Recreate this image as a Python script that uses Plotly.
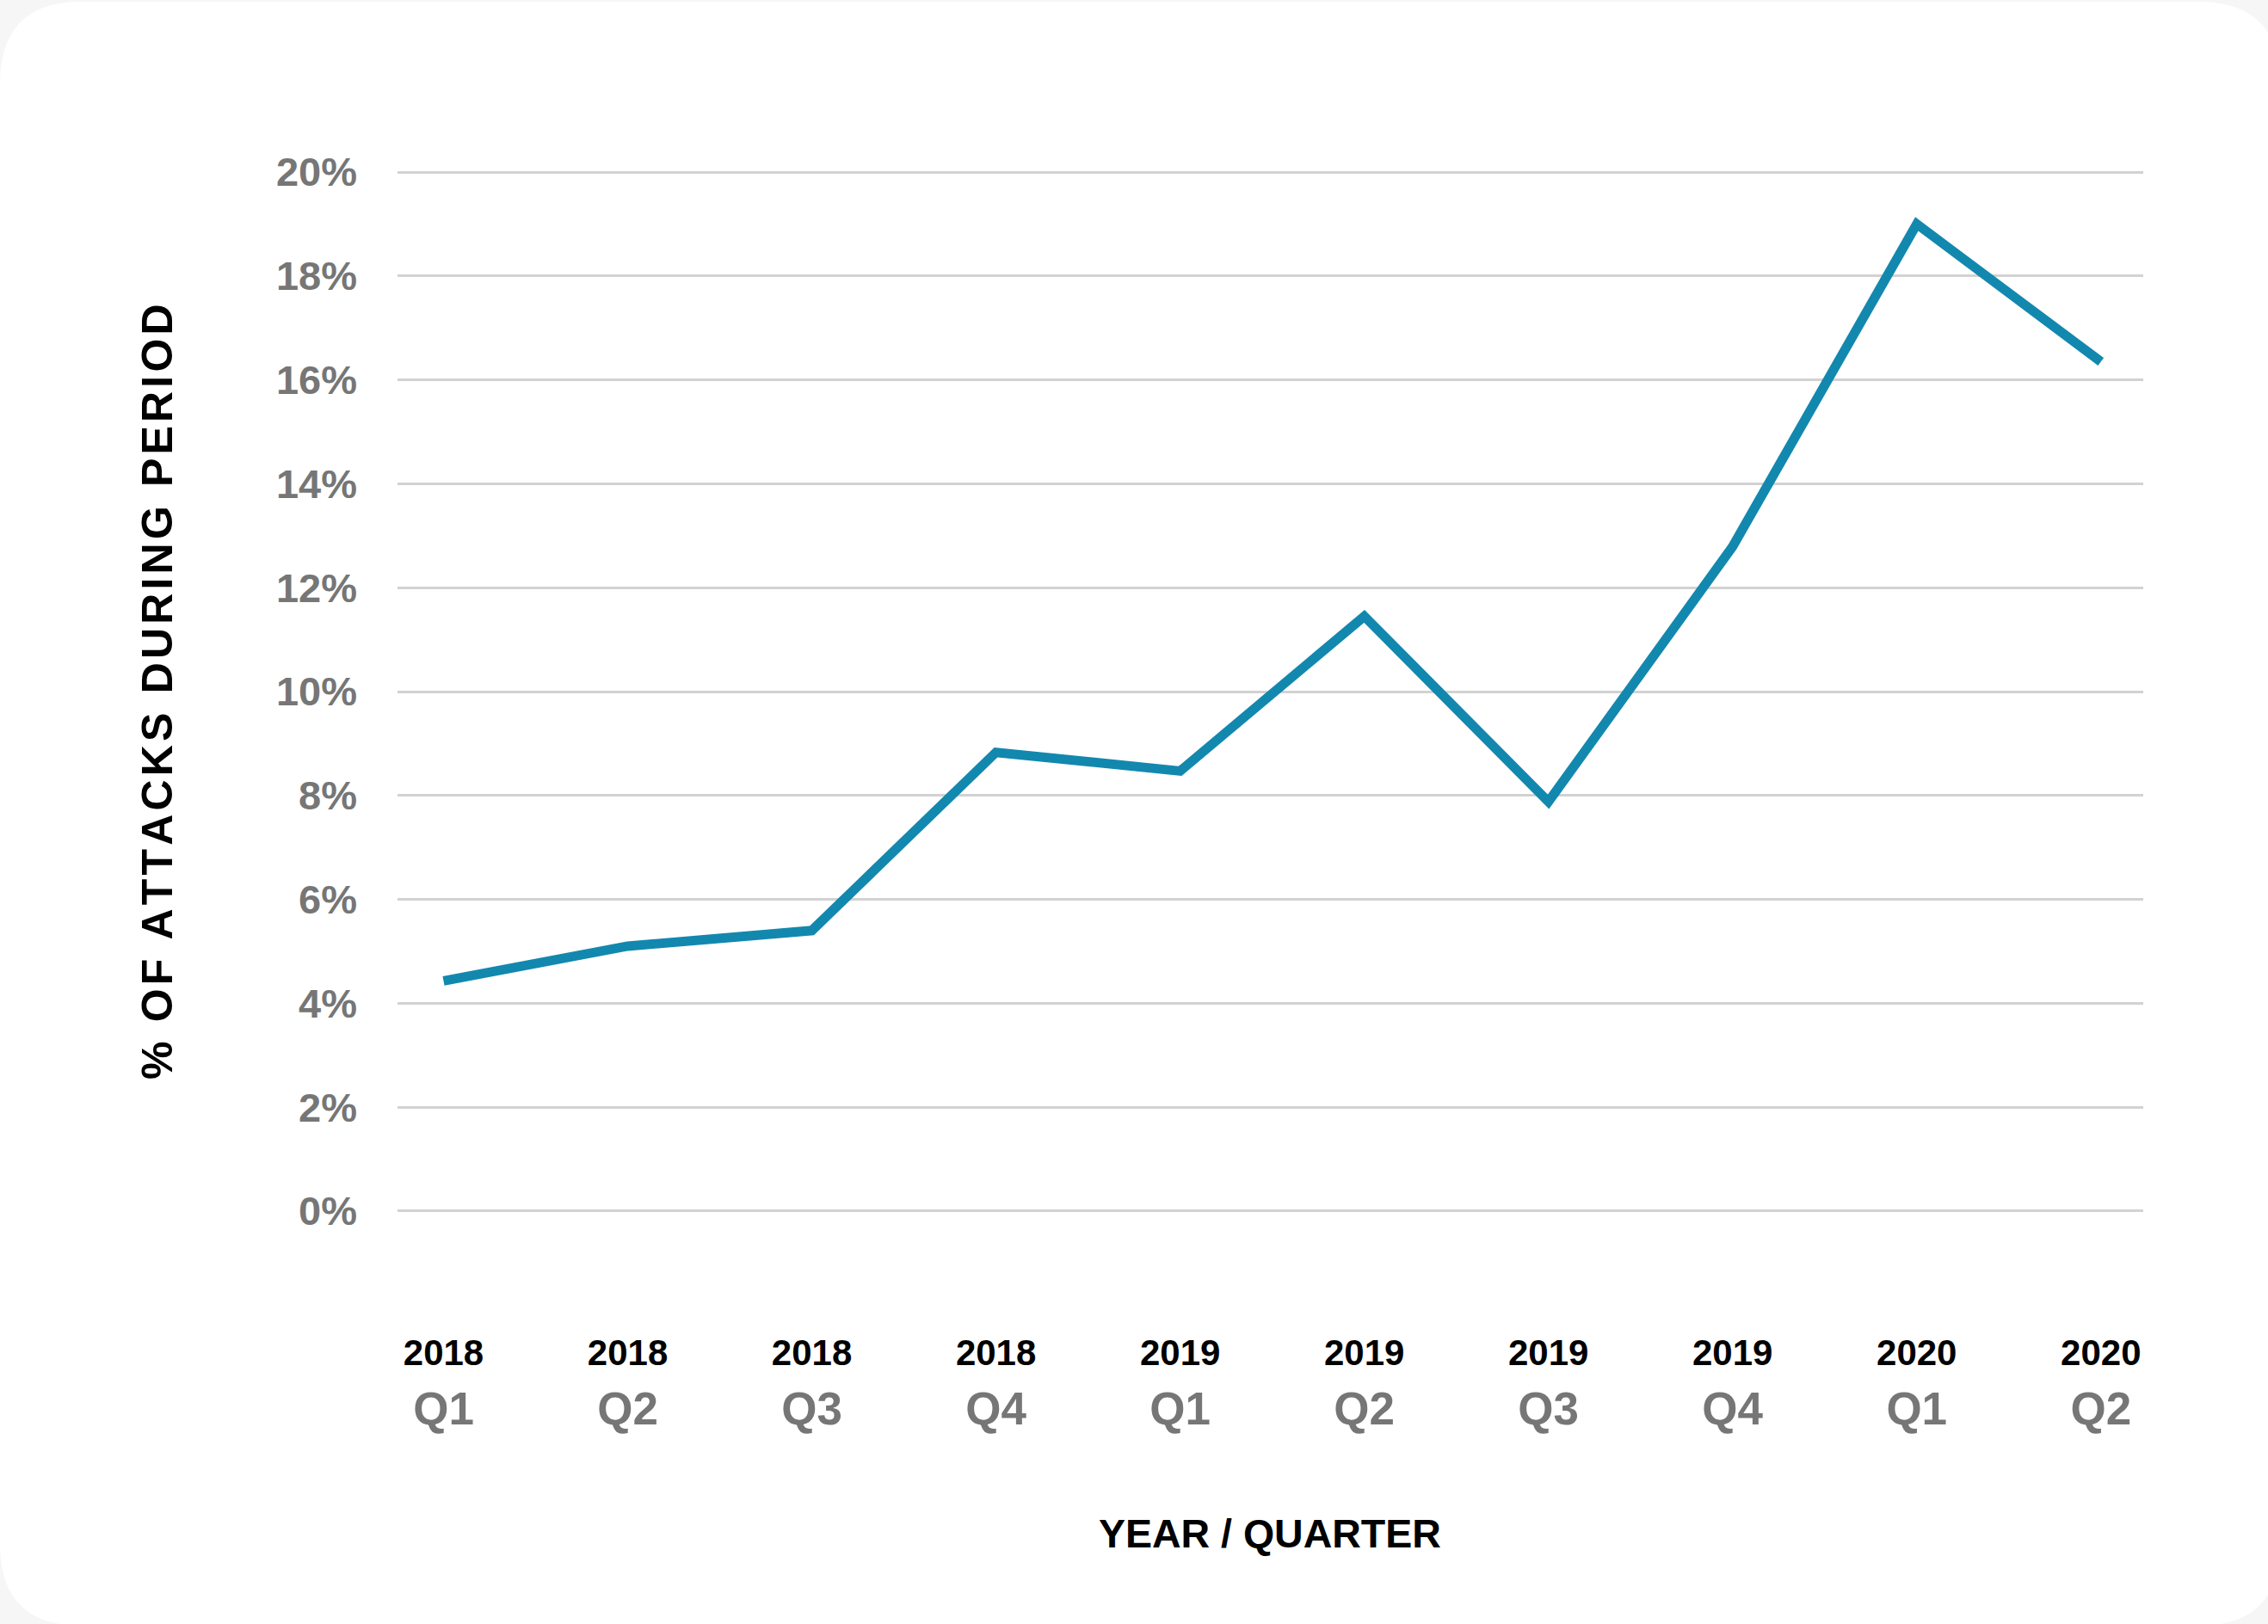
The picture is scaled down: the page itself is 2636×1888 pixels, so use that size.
import plotly.graph_objects as go

years = ["2018", "2018", "2018", "2018", "2019", "2019", "2019", "2019", "2020", "2020"]
quarters = ["Q1", "Q2", "Q3", "Q4", "Q1", "Q2", "Q3", "Q4", "Q1", "Q2"]
share = [4.43, 5.10, 5.40, 8.83, 8.47, 11.45, 7.88, 12.79, 19.0, 16.35]
y_ticks = [0, 2, 4, 6, 8, 10, 12, 14, 16, 18, 20]

W, H = 2636, 1888
L, R, T, B = 462, 145, 194, 474
PW, PH = W - L - R, H - T - B
FONT = "Arial, Liberation Sans, sans-serif"
GREY = "#767676"


def px(x):
    # pixel x -> paper x (paper is the plot area)
    return (x - L) / PW


def py(y):
    # pixel y (from top) -> paper y
    return (H - B - y) / PH


x_pos = list(range(len(years)))
tick_text = [
    f"<span style='font-size:42px;color:#000000'>{y}</span><br>{q}"
    for y, q in zip(years, quarters)
]

fig = go.Figure()
fig.add_trace(go.Scatter(
    x=x_pos, y=share, mode="lines",
    line=dict(color="#1388AE", width=11),
    hoverinfo="skip", showlegend=False,
))

# white card with rounded corners on a light grey page
r = 95
cx0, cx1, cy0, cy1 = 0, 2650, 2, 1890
card = (
    f"M {px(cx0 + r)},{py(cy0)} L {px(cx1 - r)},{py(cy0)} "
    f"Q {px(cx1)},{py(cy0)} {px(cx1)},{py(cy0 + r)} "
    f"L {px(cx1)},{py(cy1 - r)} Q {px(cx1)},{py(cy1)} {px(cx1 - r)},{py(cy1)} "
    f"L {px(cx0 + r)},{py(cy1)} Q {px(cx0)},{py(cy1)} {px(cx0)},{py(cy1 - r)} "
    f"L {px(cx0)},{py(cy0 + r)} Q {px(cx0)},{py(cy0)} {px(cx0 + r)},{py(cy0)} Z"
)
fig.add_shape(type="path", path=card, xref="paper", yref="paper",
              fillcolor="white", line=dict(width=0), layer="below")

# spaced-out y title
ytitle = "\u200a".join("% OF ATTACKS DURING PERIOD")
fig.add_annotation(text=ytitle, x=px(153), y=py(804), xref="paper", yref="paper",
                   showarrow=False, textangle=-90,
                   font=dict(family=FONT, size=50, color="#000000", weight="bold"))
fig.add_annotation(text="YEAR / QUARTER", x=px(1476), y=py(1811),
                   xref="paper", yref="paper", showarrow=False,
                   font=dict(family=FONT, size=46.5, color="#000000", weight="bold"))

fig.update_layout(
    width=W, height=H,
    margin=dict(l=L, r=R, t=T, b=B),
    paper_bgcolor="#F6F6F6", plot_bgcolor="rgba(0,0,0,0)",
    font=dict(family=FONT),
)
fig.update_xaxes(
    range=[-0.25, 9.23], tickvals=x_pos, ticktext=tick_text,
    showgrid=False, zeroline=False, showline=False, ticks="",
    ticklabelstandoff=119,
    tickfont=dict(family=FONT, size=53, color=GREY, weight="bold"),
)
fig.update_yaxes(
    range=[-0.1, 20.1], tickvals=y_ticks, ticktext=[f"{v}%" for v in y_ticks],
    showgrid=True, gridcolor="#D2D2D2", gridwidth=3,
    zeroline=False, showline=False, ticks="",
    ticklabelstandoff=46,
    tickfont=dict(family=FONT, size=47, color=GREY, weight="bold"),
)

fig.write_html("out.html", config={"displayModeBar": False},
               post_script="document.body.style.margin='0';")
